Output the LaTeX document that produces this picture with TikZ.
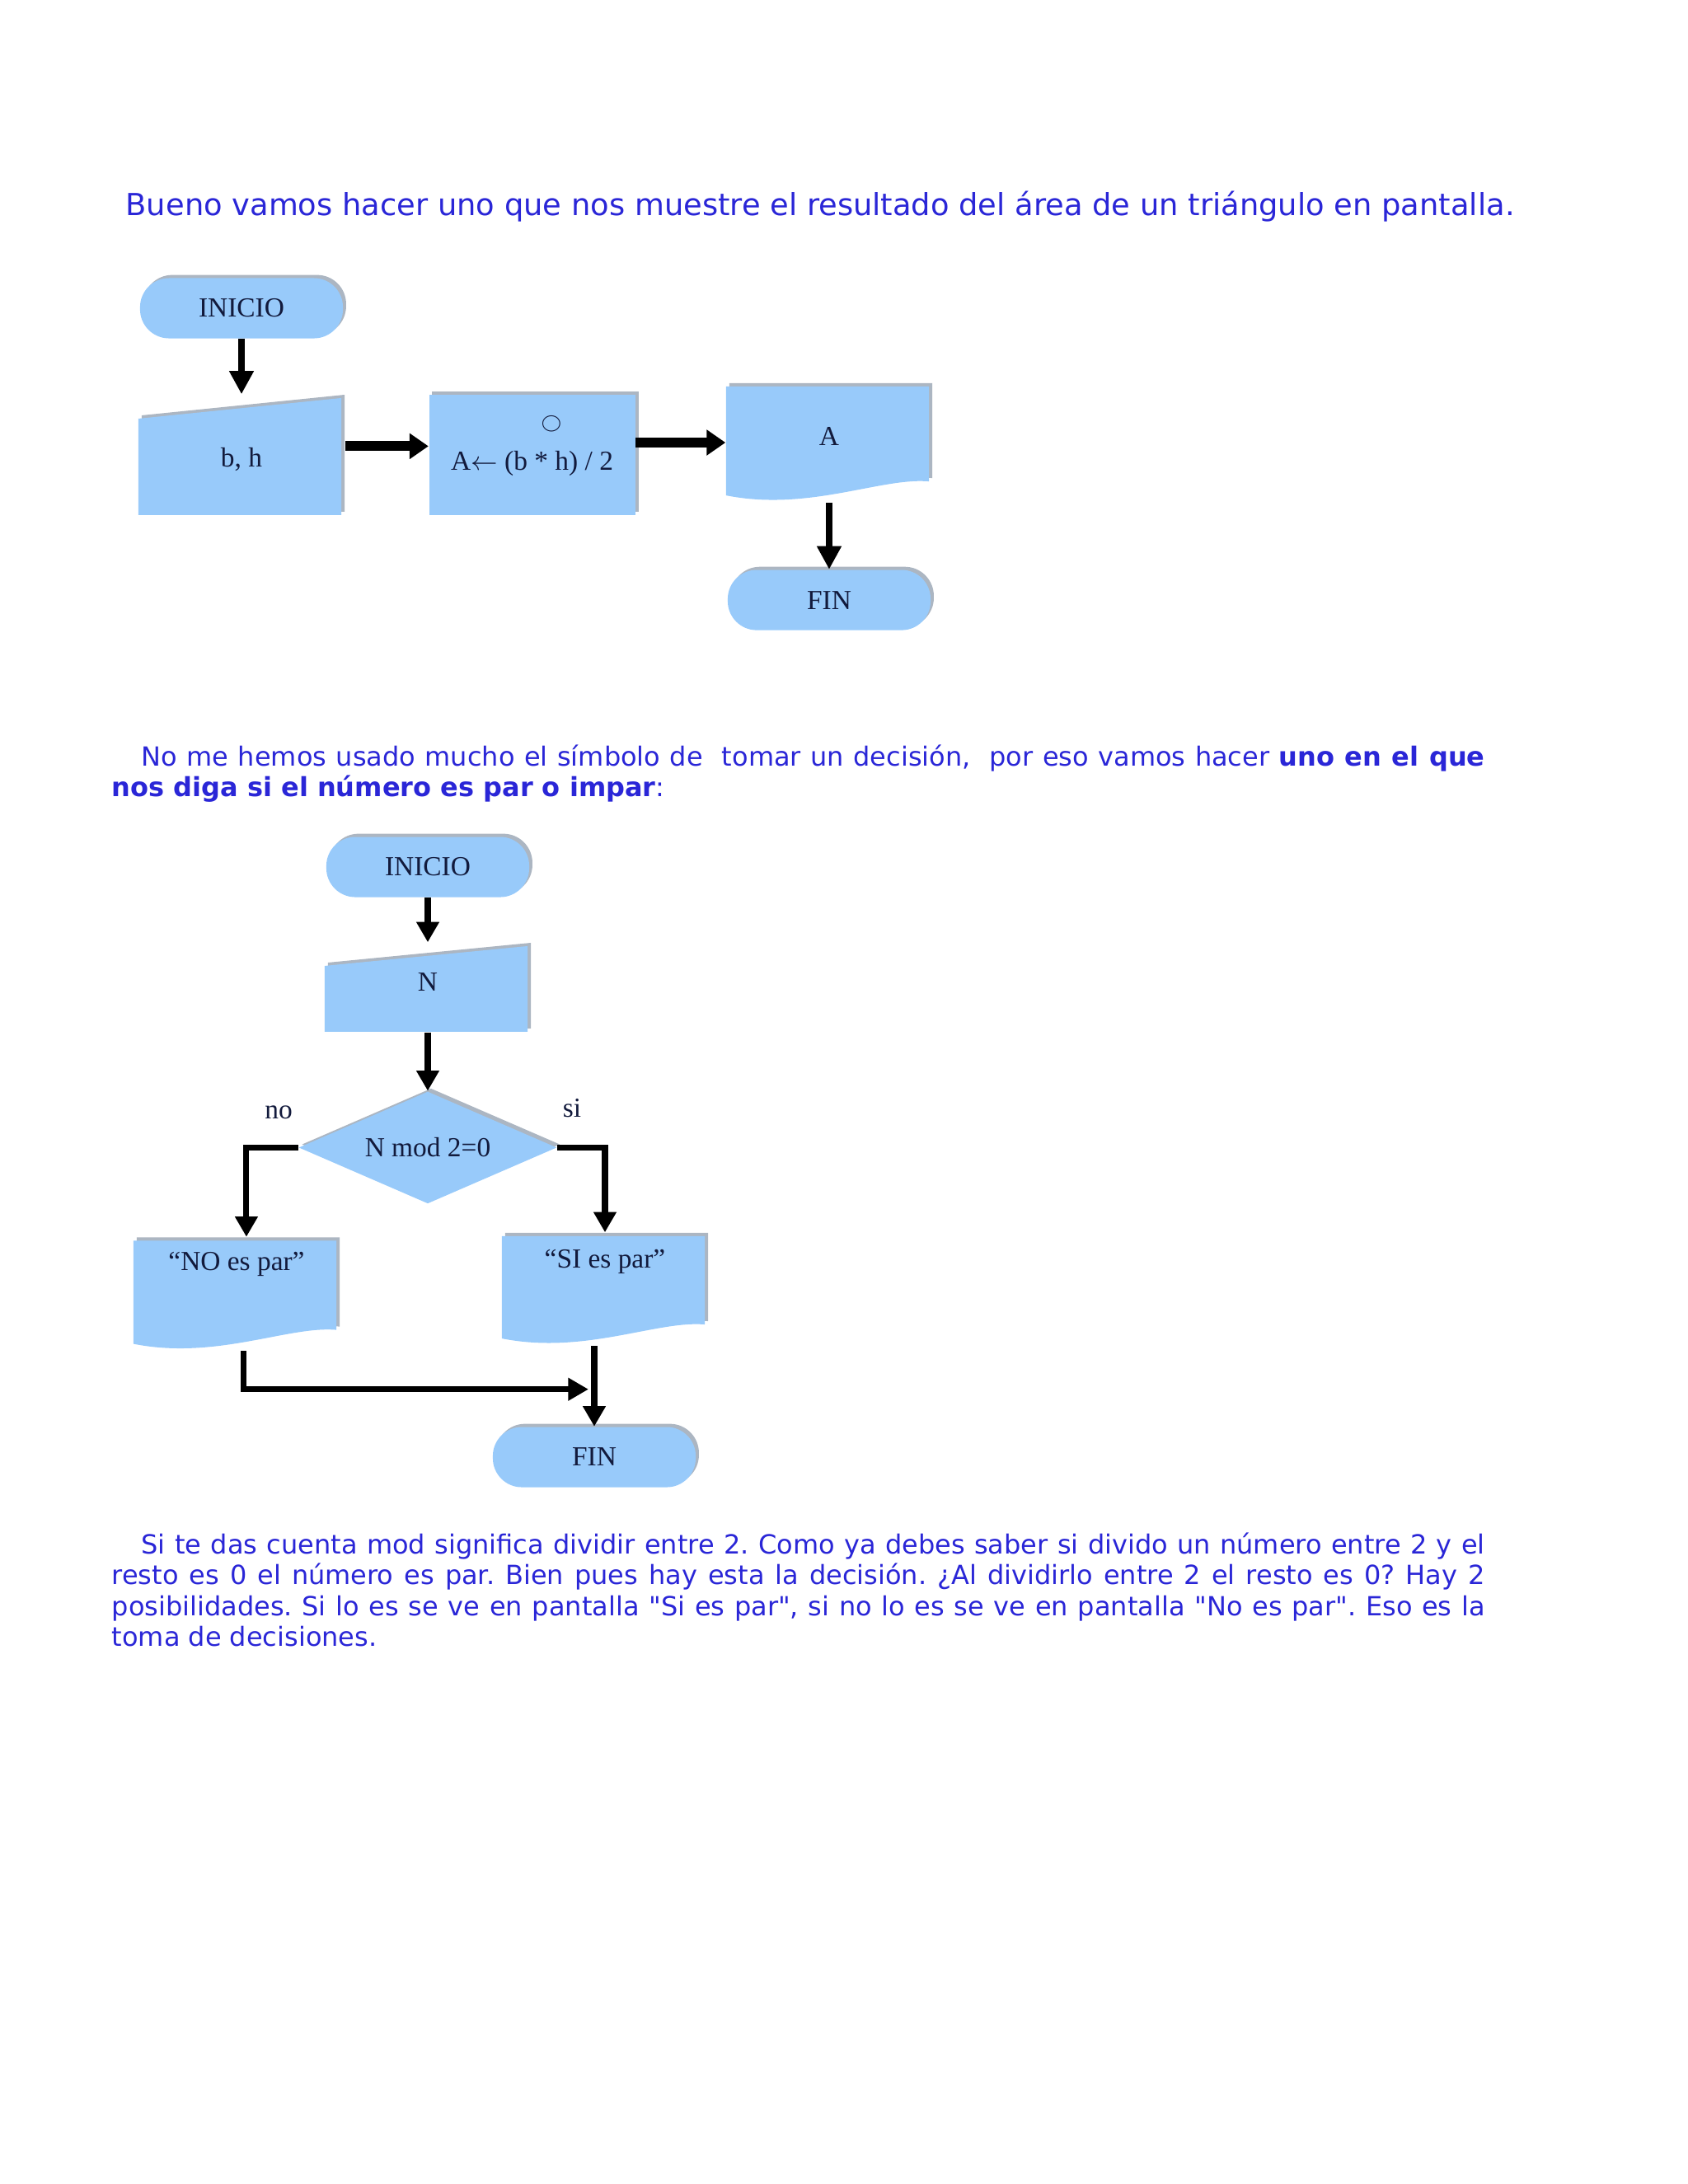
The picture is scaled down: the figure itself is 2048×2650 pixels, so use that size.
\documentclass[tikz,border=0pt]{standalone}
\usepackage{fontspec}
\setmainfont{DejaVu Sans}
\newfontfamily\flowfont{Liberation Serif}
\usetikzlibrary{arrows.meta,positioning,calc,shapes.geometric,shadows}
\definecolor{textblue}{RGB}{42,38,215}
\definecolor{boxblue}{RGB}{152,202,250}
\definecolor{edgegray}{RGB}{172,182,194}
\definecolor{inkblue}{RGB}{18,26,60}
\frenchspacing

\begin{document}
\begin{tikzpicture}[
  x=0.01cm, y=-0.01cm,
  node distance=0.6cm and 1cm,
  every node/.style={inner sep=0pt},
  flowtext/.style={text=inkblue, font=\flowfont\fontsize{9.5}{11}\selectfont},
  terminal/.style={flowtext, fill=boxblue, rounded corners=10pt, minimum width=2.46cm,
                   minimum height=0.73cm,
                   drop shadow={shadow xshift=1.1pt, shadow yshift=1.1pt, fill=edgegray, opacity=1}},
  procbox/.style={flowtext, fill=boxblue, minimum width=2.5cm,
                  drop shadow={shadow xshift=1.1pt, shadow yshift=1.1pt, fill=edgegray, opacity=1}},
  decision/.style={flowtext, diamond, aspect=2.3, fill=boxblue, minimum width=3.13cm, minimum height=1.36cm,
                   drop shadow={shadow xshift=1.1pt, shadow yshift=1.1pt, fill=edgegray, opacity=1}},
  inbox/.style={flowtext, minimum width=2.5cm, path picture={
      \coordinate (sw) at (path picture bounding box.south west);
      \coordinate (ne) at (path picture bounding box.north east);
      \fill[edgegray] ($(sw)+(4,-4)$) -- ($(sw|-ne)+(4,#1)$) -- (ne) -- ($(ne|-sw)+(0,-4)$) -- cycle;
      \fill[boxblue] (sw) -- ($(sw|-ne)+(0,#1+4)$) -- ($(ne)+(-4,4)$) -- ($(ne|-sw)+(-4,0)$) -- cycle;
  }},
  docbox/.style={flowtext, minimum width=2.5cm, path picture={
      \coordinate (sw) at (path picture bounding box.south west);
      \coordinate (ne) at (path picture bounding box.north east);
      \coordinate (se) at (path picture bounding box.south east);
      \coordinate (nw) at (path picture bounding box.north west);
      \fill[edgegray] ($(nw)+(4,0)$) -- (ne) -- ($(se)+(0,-29)$)
        .. controls ($(sw)!0.75!(se)+(4,-34)$) and ($(sw)!0.4!(se)+(4,8)$) .. ($(sw)+(4,-12)$) -- cycle;
      \fill[boxblue] ($(nw)+(0,4)$) -- ($(ne)+(-4,4)$) -- ($(se)+(-4,-25)$)
        .. controls ($(sw)!0.75!(se)+(0,-30)$) and ($(sw)!0.4!(se)+(0,12)$) .. ($(sw)+(0,-8)$) -- cycle;
  }},
  para/.style={text width=16.65cm, align=justify, text=textblue, font=\fontsize{9.1}{10.67}\selectfont},
  arrow/.style={-{Triangle[length=7pt, width=7.5pt]}, line width=2pt},
  downarrow/.style={-{Triangle[length=8pt, width=8pt]}, line width=2.4pt},
  bigarrow/.style={-{Triangle[length=6.5pt, width=8.5pt]}, line width=3.4pt}
]
\useasboundingbox (0,0) rectangle (2048,2650);

% texto
\node[anchor=base west, text=textblue, font=\fontsize{10.48}{12}\selectfont] (title) at (152,261)
  {Bueno vamos hacer uno que nos muestre el resultado del área de un triángulo en pantalla.};
\node[para, anchor=north west] (intro) at (135,903)
  {\hspace*{10.2pt}No me hemos usado mucho el símbolo de~ tomar un decisión,~ por eso vamos hacer \textbf{uno en el que}\linebreak
   \textbf{nos diga si el número es par o impar}:};
\node[para, anchor=north west] (note) at (135,1859)
  {\hspace*{10.2pt}Si te das cuenta mod significa dividir entre 2. Como ya debes saber si divido un número entre 2 y el\linebreak
   resto es 0 el número es par. Bien pues hay esta la decisión. ¿Al dividirlo entre 2 el resto es 0? Hay 2\linebreak
   posibilidades. Si lo es se ve en pantalla \textquotedbl Si es par\textquotedbl, si no lo es se ve en pantalla \textquotedbl No es par\textquotedbl. Eso es la\linebreak
   toma de decisiones.};

% area del triangulo
\node[terminal] (ini1) at (293,374) {INICIO};
\node[inbox=25, below=0.67cm of ini1, text height=25pt, text depth=16.5pt] (bh) {b, h};
\node[procbox, right=1.01cm of bh, text height=25.9pt, text depth=15.6pt] (calc)
  {\rlap{\hspace*{31pt}\raisebox{14.5pt}{\fontsize{6}{6}\selectfont$\bigcirc$}}A$\leftarrow$ (b * h) / 2};
\node[docbox, text height=21.6pt, text depth=19.4pt] (out1) at (1006,537) {A};
\node[terminal, below=0.81cm of out1] (fin1) {FIN};

\draw[downarrow] (ini1) -- (bh);
\draw[bigarrow] ([yshift=3pt]bh.east) -- ([yshift=3pt]calc.west);
\draw[bigarrow] (calc.east |- out1.west) -- (out1.west);
\draw[downarrow] (out1) -- (fin1);

% par o impar
\node[terminal] (ini2) at (519,1052) {INICIO};
\node[inbox=24, below=0.54cm of ini2, text height=16.5pt, text depth=14.2pt] (num) {N};
\node[decision, below=0.71cm of num] (dec) {N mod 2=0};
\node[docbox, text height=11.4pt, text depth=27.6pt] (nopar) at (287,1570) {“NO es par”};
\node[docbox, text height=12pt, text depth=26.7pt] (sipar) at (734,1564) {“SI es par”};
\node[terminal] (fin2) at (721,1768) {FIN};
\node[flowtext] (nolbl) at (338,1350) {no};
\node[flowtext] (silbl) at (694,1345) {si};

\coordinate (join) at ($(sipar.south -| fin2.north)!0.54!(fin2.north)$);

\draw[arrow] (ini2) -- (num);
\draw[arrow] (num) -- (dec);
\draw[arrow] (dec.west) -| ([xshift=3.4pt]nopar.north);
\draw[arrow] (dec.east) -| (sipar.north);
\draw[arrow] ([xshift=2.5pt]nopar.south) |- ([xshift=-2pt]join);
\draw[arrow] (sipar.south -| fin2.north) -- (fin2.north);
\end{tikzpicture}
\end{document}
